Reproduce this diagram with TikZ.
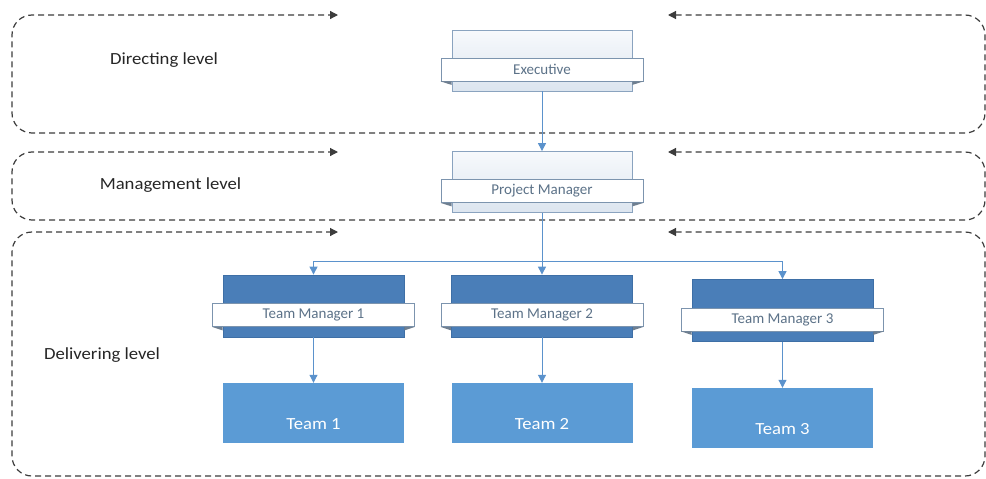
\documentclass[tikz,border=0pt]{standalone}
\usepackage{fontspec}
\setmainfont{Carlito}
\newfontfamily\widefont[FakeStretch=1.1]{Carlito}
\usetikzlibrary{arrows.meta,shadings}

\definecolor{frameGray}{HTML}{3C3C3C}
\definecolor{connBlue}{HTML}{5B92CC}
\definecolor{bannerText}{HTML}{5C7288}
\definecolor{bannerEdge}{HTML}{7C94AE}
\definecolor{paleEdge}{HTML}{8AA3BF}
\definecolor{paleTop}{HTML}{F7F9FC}
\definecolor{paleBot}{HTML}{DCE5EF}
\definecolor{darkBack}{HTML}{4A7EB8}
\definecolor{darkEdge}{HTML}{3E6FA6}
\definecolor{teamFill}{HTML}{5B9BD5}
\definecolor{foldGray}{HTML}{6F7F90}
\definecolor{levelInk}{HTML}{262626}

\tikzset{
  levelframe/.style={draw=frameGray, line width=1.2pt, dash pattern=on 6pt off 4pt,
    rounded corners=20pt, {Triangle[length=8pt,width=8pt]}-{Triangle[length=8pt,width=8pt]}},
  leveltext/.style={font=\widefont\fontsize{17}{20}\selectfont, text=levelInk},
  paleback/.style={draw=paleEdge, line width=0.8pt, top color=paleTop, bottom color=paleBot,
    minimum width=180pt, minimum height=61pt, inner sep=0pt},
  darkback/.style={draw=darkEdge, line width=0.8pt, fill=darkBack,
    minimum width=181pt, minimum height=62pt, inner sep=0pt},
  banner/.style={draw=bannerEdge, line width=0.8pt, fill=white, text=bannerText,
    font=\fontsize{15}{18}\selectfont, minimum width=202pt, minimum height=23pt, inner sep=0pt},
  teambox/.style={fill=teamFill, minimum width=181pt, minimum height=60pt, inner sep=0pt},
  teamlabel/.style={text=white, font=\widefont\fontsize{17}{20}\selectfont, yshift=-11pt},
  conn/.style={draw=connBlue, line width=1pt, -{Triangle[length=8pt,width=8pt]}},
  fold/.style={fill=foldGray, draw=none},
}

% ribbon fold under both ends of a banner: #1 banner node, #2 back node
\newcommand{\bannerfolds}[2]{%
  \fill[fold] (#1.south west) -- (#2.west |- #1.south) -- ([yshift=-3.5pt]#2.west |- #1.south) -- cycle;
  \fill[fold] (#1.south east) -- (#2.east |- #1.south) -- ([yshift=-3.5pt]#2.east |- #1.south) -- cycle;
}

\begin{document}
\begin{tikzpicture}[x=1pt, y=-1pt]
\useasboundingbox (0,0) rectangle (986,479);

% level frames, each opening at the top with two inward arrows
\draw[levelframe] (668,15) -- (985,15) -- (985,133) -- (12,133) -- (12,15) -- (338,15);
\draw[levelframe] (668,152) -- (985,152) -- (985,220) -- (12,220) -- (12,152) -- (338,152);
\draw[levelframe] (668,232) -- (985,232) -- (985,476) -- (12,476) -- (12,232) -- (338,232);

\node[leveltext] (lvDir) at (164,60) {Directing level};
\node[leveltext] (lvMan) at (170.5,185) {Management level};
\node[leveltext] (lvDel) at (102,355) {Delivering level};

% directing and management boxes
\node[paleback] (execB) at (542,60.5) {};
\node[banner] (exec) at (542,69.5) {Executive};
\node[paleback] (pmB) at (542,182) {};
\node[banner] (pm) at (542,191) {Project Manager};

% team managers
\node[darkback] (tm1B) at (313.5,306) {};
\node[banner] (tm1) at (313.5,315) {Team Manager 1};
\node[darkback] (tm2B) at (542,306) {};
\node[banner] (tm2) at (542,315) {Team Manager 2};
\node[darkback] (tm3B) at (782.5,310.5) {};
\node[banner] (tm3) at (782.5,319.5) {Team Manager 3};

\bannerfolds{exec}{execB}
\bannerfolds{pm}{pmB}
\bannerfolds{tm1}{tm1B}
\bannerfolds{tm2}{tm2B}
\bannerfolds{tm3}{tm3B}

% teams
\node[teambox, label={[teamlabel]center:Team 1}] (team1) at (313.5,413) {};
\node[teambox, label={[teamlabel]center:Team 2}] (team2) at (542,413) {};
\node[teambox, label={[teamlabel]center:Team 3}] (team3) at (782.5,418) {};

% connectors
\coordinate (bus) at (542,261);
\draw[conn] (execB.south) -- (pmB.north);
\draw[conn] (pmB.south) -- (tm2B.north);
\draw[conn] (bus) -| (tm1B.north);
\draw[conn] (bus) -| (tm3B.north);
\draw[conn] (tm1B.south) -- (team1.north);
\draw[conn] (tm2B.south) -- (team2.north);
\draw[conn] (tm3B.south) -- (team3.north);
\end{tikzpicture}
\end{document}
